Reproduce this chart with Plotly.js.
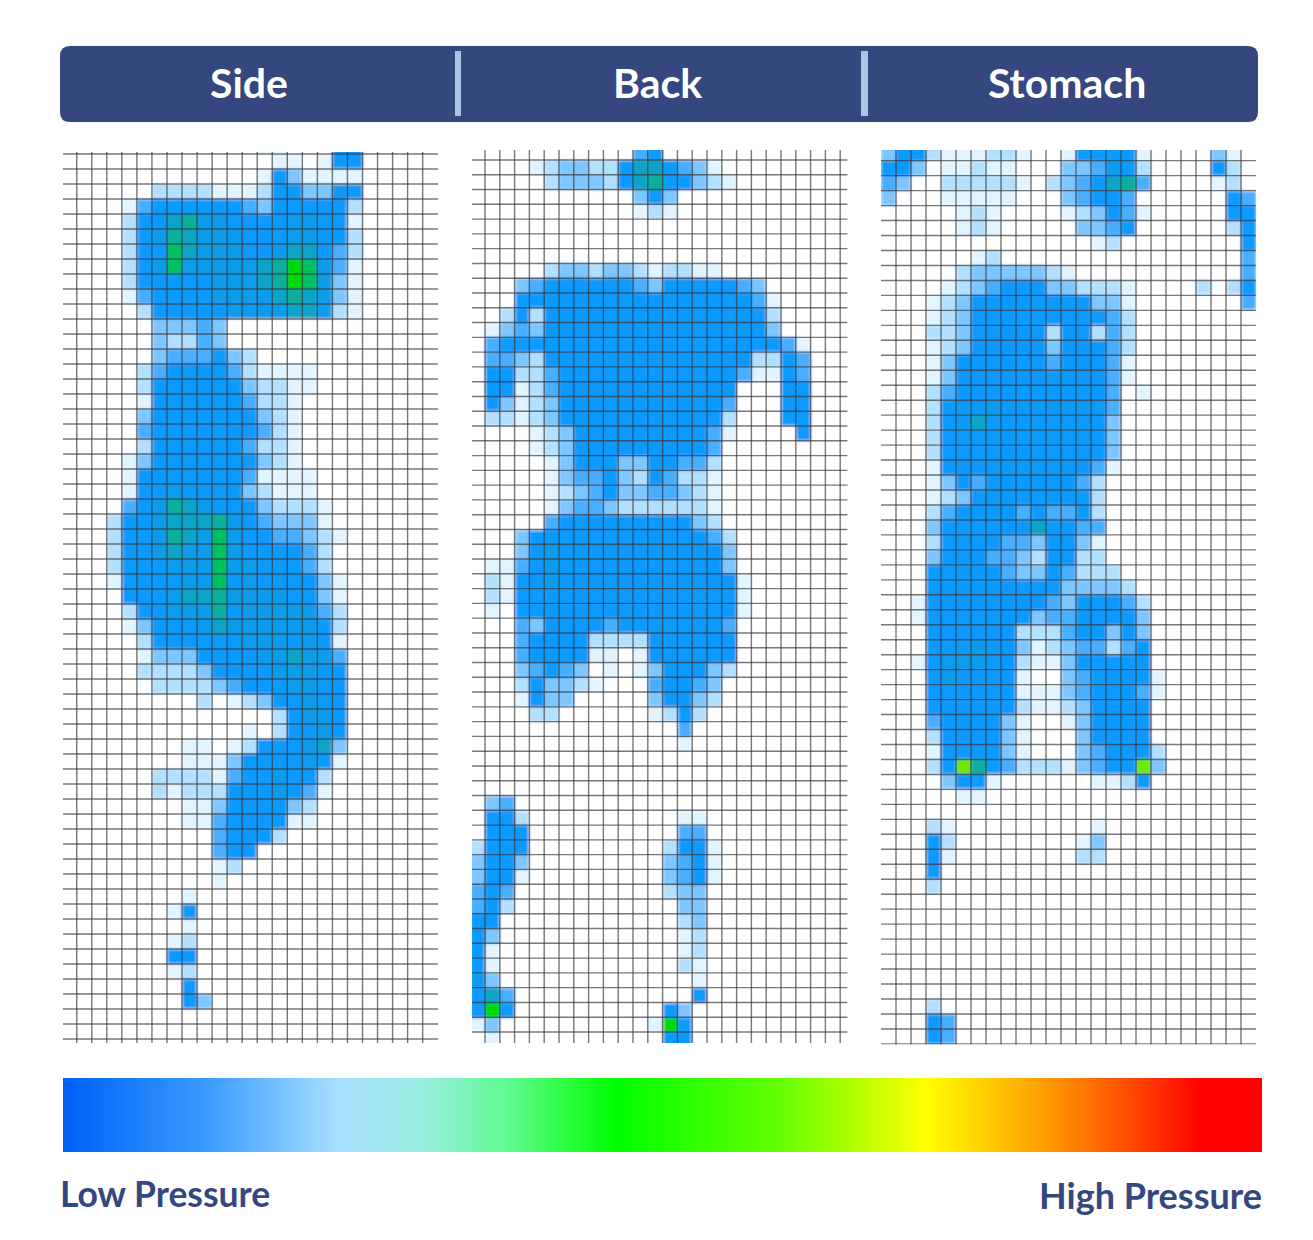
<!DOCTYPE html>
<html><head><meta charset="utf-8">
<script src="https://cdn.plot.ly/plotly-3.0.1.min.js"></script>
<style>html,body{margin:0;padding:0;background:#fff}#c{width:1313px;height:1240px}</style></head>
<body><div id="c"></div>
<svg width="0" height="0" style="position:absolute"><defs><filter id="soft" x="-5%" y="-5%" width="110%" height="110%"><feGaussianBlur stdDeviation="1.5"/></filter></defs></svg>
<script>
const panelTitles = ["Side", "Back", "Stomach"];
const legendLabels = ["Low Pressure", "High Pressure"];

// Pressure level per mattress cell (hex digit, 0 = none, b = peak), one string per row
const sideRows = [
"0000000000000 11 000 55","00000000000000 11 0 1 55","0000000000000 1531111",
"000000 2222 111 2 55 33 65","0000 14 555555 43 55555 2","0000 25 57866 5555 66 55 1",
"0000 25 687 666 555 66 55 2","0000 25 597 666 55 6 77 5 4 2","0000 25 696 6666 78a96 4 1",
"0000 25 5555 666 78a96 3 1","0000 14 5555 6666 7876 3 1","00000 2 55555 6666 77 6 2 1",
"000000 33343","000000 32243","000000 3444532","00000 2 4 5555 4 2 1111",
"00000 2 555555 3 22 11","00000 1 555555 4 22 1","00000 3 5555555 3 2 1","00000 4 5555555 4 2 1",
"00000 2 555555 4 22 1","0000 1 3 5555555 3 2 1","0000 1 5555555 4 1111","0000 1 55 6 5555 3 2 111",
"0000 4 5 6 8 7 6 555 3 222 1","000 2 55 6 777 8 6 5 4 333 1","000 2 55 6 8 7 6 9 6 55 44 3 2 1",
"000 2 55 6 7 66 9 6 5555 4 2","000 2 555 666 9 66 555 4 2","000 1 5555 66 9 5 6 5555 3 1",
"0000 555 6 77 8 6666 55 3 1","0000 2 55 666 8 5 66666 4 2","0000 1 3 555 6 7 666 6 66 5 2",
"00000 2 555555 66 6 5 6 5 1","00000 1 333 5555 66 76 6 4","00000 2222 3 5555 6 6 6 55",
"000000 2222 3 4 555 66 55","000000000 2 0 1 2 3 55 6 55","00000000000000 25665",
"000000000000 1 0 2 55 6 5","00000000 11 0 1 2 555 6 7 3","00000000 111 3 5555 6 5 1",
"000000 2222 1 4 55 6 55 2","000000 2 1 222 555 6 5 4 1","00000000 11 3 5555 3 2",
"00000000 11 4 5555 1 1","0000000000 4 555 2","0000000000 4 55","0000000000 1 2","0000000000 1",
"00000000 1","0000000 1 5","00000000 1","0000000 1 2","0000000 55","0000000 1 2","00000000 5","00000000 5 3",
"","",""];

const backRows = [
"00000000000 45","0000 1233225775431","00000 2333257855321","00000000000 353","00000000000 121",
"","","","00000 233233212211","000 34 555555 43 55555 43","000 5555555555555555 41",
"00 252 555555555555555 2","0 1343 555555555555555 3","0 4 5555555555555555555 41",
"0 4432 55555555555555 2254","0 5522 4 555555555555 4 11 54","0 5512 4 555555555555 000 55",
"0 5312 3 55555555555 4 000 55","0 2212 3 55555555555 2 000 55","0000 123 555555555 41 0000 5",
"0000 123 555555555 4","00000 135553355442","00000 134453254221","00000 123453344321","00000 134432222221",
"00000 4 555555555 32","000 3 555555555555 42","000 35 6 55555555555 3","0 11 45 6 55555555555 3",
"0 21 55 6 555555555555 1","0 21 555555555555555 1","0 10 555555555555555 1",
"000 43 5555 4 5555555 4","000 4 5555 2222 555555","000 4 5555 1101 555555",
"000 34543 0101 3 555 32","000 25332 1000 4 55 43","000 1533 00000 3 55 32","0000 22 000000 1252",
"00000000000000 4","00000000000000 1","","","",
"034","0552 0000000000 11","0555 0000000000 44","2555 000000000 2551","3553 000000000 3451",
"3551 000000000 3451","454 0000000000 233","452 00000000000 33","55 000000000000 23",
"53 000000000000 12","51 000000000000 12","51 000000000000 21","63 0000000000000 1",
"574 000000000000 5","5a5 0000000000 53","13 0000000000 1a5","01 00000000000 55"];

const stomachRows = [
"3552111221 00 1 5555 1 0000 31","553011211 000 334652 0000 52","4300222221 0 2 345784 0000 12",
"300011111 000 34554 000000 54","00000121 0000 123541 00000 55","00000121 00000 3345 000000 25",
"00000000000000 12 00000000 5","000000 12 0000000000000000 4","00000 23333321 00000000000 4",
"0000 1234555 33 222 1 0000 2 0 25","000 123 55555555 331 0000000 4","000 123 555555555 42",
"000 223 55555 2 55 2 42","000 123 55555 3 555 42","000 13 555555 4 555 41","000 13 5555555555 41",
"000 24 5555555555 4 0 1","000 2 555 6 5555555 4","000 2 55 7 55555555 3","000 2 55555555555 3",
"000 2 55555555555 3","000 1 5555555555 41","000 13 5 4 555555 4 2","000 123 55555555 2",
"000 24 5555 4 5 44 5 2","000 3 555555 7 55 44","000 2 5555 44 3 55 3 1","000 3 555 4 4 3 2 55 22",
"000 5 5555 4 33 5 4 222","000 555555555 3333 2","00 1 55555555 4 3 555 4 2","00 1 5555555 3 44 5555 3",
"000 555555 222 4 55 3 5 3","000 555 6 55 3 1 2 3 44 2 4 5","00 1 5 666 55 2 11 3 55555",
"000 5 6 5555 1 00 3 4 5555 1","000 555555 111 3 4 555 4 1","000 555555 2 11 2 3 5555",
"000 4 5555 3 1 00 1 3 5555","000 2 5555 3 1 000 3 5555","000 1 5555 3 1 000 3 4 555 2",
"000 2 5 b 8 5 4 222 1 3 4 55 b 3","0000 3551 000000 1125","00000 11","",
"000 21 000000000 1","000 52 00000000 13","000 51 00000000 22","0005","0002",
"","","","","","","","0002","00054","00054"];

const levelColours = ["#ffffff","#e2f4ff","#b4e0ff","#7ec6ff","#48aeff","#0c9aff","#0a9cec","#08a4c8","#08ae9c","#04c060","#00d800","#70e800"];

const gradientValues = [0,1,2,3,4,5,6,7,8,9,10];
const gradientStops = [[0,"#0060f8"],[0.12,"#3a9cff"],[0.23,"#a8e0ff"],[0.3,"#98eee0"],[0.37,"#60fa90"],[0.46,"#00ff00"],[0.6,"#66ff00"],[0.72,"#ffff00"],[0.83,"#ff9000"],[0.95,"#ff0000"],[1,"#ff0000"]];

const W=1313,H=1240;
const px=x=>x/W, py=y=>1-y/H;
const panels=[
 {rows:sideRows,cols:25,x0:61.7,cw:15.04,y0:139,ch:15,left:63,right:438,top:152,bottom:1043,nv:24,nh:60},
 {rows:backRows,cols:26,x0:470.2,cw:14.8,y0:145.2,ch:14.78,left:472,right:847.7,top:150,bottom:1043,nv:25,nh:60},
 {rows:stomachRows,cols:25,x0:881,cw:15,y0:145.7,ch:14.97,left:881,right:1256,top:150,bottom:1044.5,nv:24,nh:60}
];
const scale=levelColours.map((c,i)=>[i/(levelColours.length-1),c]);
const traces=[],layout={width:W,height:H,margin:{l:0,r:0,t:0,b:0},paper_bgcolor:"#fff",plot_bgcolor:"#fff",showlegend:false,shapes:[],annotations:[]};
panels.forEach((p,i)=>{
  const n=i+1,xa="x"+n,ya="y"+n;
  const z=p.rows.map(r=>{const s=r.replace(/ /g,"").padEnd(p.cols,"0");return s.split("").map(c=>parseInt(c,16));});
  traces.push({type:"heatmap",z,x0:0.5,dx:1,y0:0.5,dy:1,xaxis:xa,yaxis:ya,colorscale:scale,zmin:0,zmax:levelColours.length-1,showscale:false,hoverinfo:"skip"});
  const rx=[(p.left-p.x0)/p.cw,(p.right-p.x0)/p.cw],ry=[(p.bottom-p.y0)/p.ch,(p.top-p.y0)/p.ch];
  const lx=[],ly=[];
  for(let k=1;k<=p.nv;k++){lx.push(k,k,null);ly.push(ry[0],ry[1],null);}
  for(let k=1;k<=p.nh;k++){lx.push(rx[0],rx[1],null);ly.push(k,k,null);}
  traces.push({type:"scatter",mode:"lines",x:lx,y:ly,xaxis:xa,yaxis:ya,line:{color:"rgba(55,55,55,0.68)",width:1.4},hoverinfo:"skip"});
  layout["xaxis"+n]={domain:[px(p.left),px(p.right)],range:rx,visible:false,fixedrange:true,anchor:ya};
  layout["yaxis"+n]={domain:[py(p.bottom),py(p.top)],range:ry,visible:false,fixedrange:true,anchor:xa};
});
traces.push({type:"heatmap",z:[gradientValues],x:gradientValues,y:[0],xaxis:"x4",yaxis:"y4",colorscale:gradientStops,zmin:0,zmax:10,zsmooth:"best",showscale:false,hoverinfo:"skip"});
layout.xaxis4={domain:[px(63),px(1262)],range:[0,10],visible:false,fixedrange:true,anchor:"y4"};
layout.yaxis4={domain:[py(1152),py(1078)],range:[-0.5,0.5],visible:false,fixedrange:true,anchor:"x4"};

const r=10,a=60,b=1258,t=46,u=122;
const P=(x,y)=>px(x)+","+py(y);
layout.shapes.push({type:"path",xref:"paper",yref:"paper",layer:"below",fillcolor:"#34477f",line:{width:0},
  path:`M${P(a+r,t)} L${P(b-r,t)} Q${P(b,t)} ${P(b,t+r)} L${P(b,u-r)} Q${P(b,u)} ${P(b-r,u)} L${P(a+r,u)} Q${P(a,u)} ${P(a,u-r)} L${P(a,t+r)} Q${P(a,t)} ${P(a+r,t)} Z`});
[[455,461],[861,868]].forEach(d=>layout.shapes.push({type:"rect",xref:"paper",yref:"paper",layer:"below",x0:px(d[0]),x1:px(d[1]),y0:py(116),y1:py(51),fillcolor:"#a9c6e4",line:{width:0}}));
const fam="Lato, 'Open Sans', sans-serif";
[249,657,1067].forEach((x,i)=>layout.annotations.push({xref:"paper",yref:"paper",x:px(x),y:py(83),xanchor:"center",yanchor:"middle",showarrow:false,text:"<b>"+panelTitles[i]+"</b>",font:{family:fam,size:41,color:"#ffffff"}}));
layout.annotations.push({xref:"paper",yref:"paper",x:px(60),y:py(1193),xanchor:"left",yanchor:"middle",showarrow:false,text:"<b>"+legendLabels[0]+"</b>",font:{family:fam,size:35.5,color:"#34477f"},xshift:-2});
layout.annotations.push({xref:"paper",yref:"paper",x:px(1262),y:py(1195),xanchor:"right",yanchor:"middle",showarrow:false,text:"<b>"+legendLabels[1]+"</b>",font:{family:fam,size:36,color:"#34477f"},xshift:2});
Plotly.newPlot("c",traces,layout,{displayModeBar:false,staticPlot:true}).then(()=>{
  document.querySelectorAll(".hm image").forEach((im,i)=>{ if(i<3) im.setAttribute("filter","url(#soft)"); });
});
</script></body></html>
